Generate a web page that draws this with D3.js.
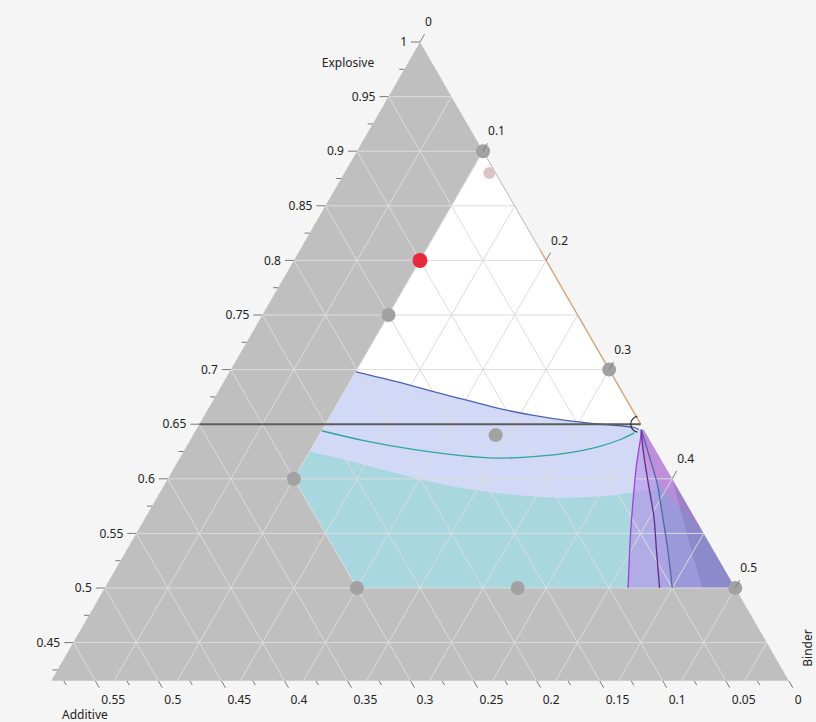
<!DOCTYPE html>
<html>
<head>
<meta charset="utf-8">
<script src="https://cdn.jsdelivr.net/npm/d3@7"></script>
<style>
  html, body { margin: 0; padding: 0; background: #f5f5f5; }
  svg { display: block; font-family: "Noto Sans", "Open Sans", sans-serif; }
</style>
</head>
<body>
<svg id="chart" width="816" height="722"></svg>
<script>
// ---- Mixture components -------------------------------------------------
const componentNames = ["Explosive", "Additive", "Binder"];
// Lowest explosive fraction shown in the plot window
const explosiveMin = 0.415;

// Feasible region from the mixture constraints, as [explosive, additive]
const feasibleRegion = [[0.9, 0], [0.6, 0.3], [0.5, 0.3], [0.5, 0]];

// Design runs, [explosive, additive] (binder = rest)
const designRuns = [[0.9, 0], [0.75, 0.15], [0.7, 0], [0.64, 0.12],
                    [0.6, 0.3], [0.5, 0.3], [0.5, 0.1725], [0.5, 0]];
const selectedRun = [0.8, 0.1];
const faintRun = [0.88, 0.005];

// Current factor setting
const currentExplosive = 0.65;
const currentAdditive = 0;

// Response contours, [explosive, additive]
const contourBlue = [[0.698, 0.202], [0.689, 0.174], [0.680, 0.150], [0.672, 0.127],
                     [0.664, 0.104], [0.658, 0.081], [0.653, 0.055], [0.650, 0.032],
                     [0.647, 0.007], [0.645, 0.004]];
const contourTeal = [[0.644, 0.256], [0.635, 0.227], [0.627, 0.192], [0.621, 0.155],
                     [0.619, 0.130], [0.620, 0.103], [0.623, 0.075], [0.629, 0.045],
                     [0.636, 0.023], [0.642, 0.009]];
const limitCyan = [[0.625, 0.275], [0.617, 0.250], [0.605, 0.216], [0.594, 0.182],
                   [0.587, 0.146], [0.583, 0.108], [0.583, 0.082], [0.585, 0.054],
                   [0.588, 0.036], [0.592, 0.0]];
const contourViolet = [[0.645, 0.002], [0.638, 0.006], [0.611, 0.023], [0.580, 0.041],
                       [0.550, 0.058], [0.5, 0.085]];
const contourPurple = [[0.645, 0.002], [0.626, 0.010], [0.596, 0.021], [0.565, 0.032],
                       [0.535, 0.045], [0.5, 0.060]];
const contourSteel = [[0.645, 0.002], [0.620, 0.008], [0.596, 0.014], [0.565, 0.025],
                      [0.535, 0.036], [0.5, 0.050]];
const limitPink = [[0.645, 0.002], [0.628, 0.010], [0.607, 0.013], [0.585, 0.010],
                   [0.565, 0.004], [0.55, 0.0]];
const limitEdge = [[0.60, 0.0], [0.57, 0.008], [0.54, 0.016], [0.5, 0.026]];

// Axis ticks
const explosiveTicks = d3.range(17, 41).map(k => k * 0.025);
const additiveTicks = d3.range(0, 24).map(k => k * 0.025);
const binderTicks = [0, 0.1, 0.2, 0.3, 0.4, 0.5];
const gridSteps = d3.range(1, 20).map(k => k * 0.05);

// ---- Ternary projection -------------------------------------------------
const svg = d3.select("#chart");
const unitHeight = 1092;                       // px per unit of explosive
const halfSide = unitHeight / Math.sqrt(3);
const apexX = 420, apexY = 42;
const yScale = d3.scaleLinear().domain([1, 0]).range([apexY, apexY + unitHeight]);
const xScale = d3.scaleLinear().domain([-1, 1]).range([apexX - halfSide, apexX + halfSide]);
const proj = ([e, a]) => { const b = 1 - e - a; return [xScale(b - a), yScale(e)]; };
const fmt = v => String(+v.toFixed(3));
const near = (v, step) => Math.abs(v / step - Math.round(v / step)) < 1e-6;

const smooth = d3.line().curve(d3.curveCatmullRom.alpha(0.5));
const straight = d3.line();
const polyPath = pts => straight(pts.map(proj)) + "Z";
// smooth curve followed by straight boundary segments, closed
const regionPath = (curve, rest) => {
  const c = smooth(curve.map(proj));
  return c + rest.map(p => { const q = proj(p); return "L" + q[0] + "," + q[1]; }).join("") + "Z";
};

// ---- Plot window ---------------------------------------------------------
const visible = [[1, 0], [explosiveMin, 1 - explosiveMin], [explosiveMin, 0]];
svg.append("path").attr("d", polyPath(visible)).attr("fill", "#bfbfbf");
svg.append("path").attr("d", polyPath(feasibleRegion)).attr("fill", "#ffffff");

// clip for contour shading
svg.append("clipPath").attr("id", "feasible")
  .append("path").attr("d", polyPath(feasibleRegion));
const shade = svg.append("g").attr("clip-path", "url(#feasible)");

const lowerLeft = [[0.5, 0], [0.5, 0.3], [0.6, 0.3]];
shade.append("path")
  .attr("d", regionPath(contourBlue, [[0.645, 0], ...lowerLeft]))
  .attr("fill", "#d1d9f6");
shade.append("path")
  .attr("d", regionPath(limitCyan, lowerLeft))
  .attr("fill", "#a9d7e0");

const edgeClose = [[0.5, 0], [0.645, 0]];
shade.append("path").attr("d", regionPath(contourViolet, edgeClose))
  .attr("fill", "rgb(184,143,234)").attr("fill-opacity", 0.6);
shade.append("path").attr("d", regionPath(contourPurple, edgeClose))
  .attr("fill", "rgb(130,100,200)").attr("fill-opacity", 0.12);
shade.append("path").attr("d", regionPath(contourSteel, edgeClose))
  .attr("fill", "rgb(80,95,175)").attr("fill-opacity", 0.15);
shade.append("path").attr("d", regionPath(limitPink, [[0.645, 0]]))
  .attr("fill", "rgb(230,120,210)").attr("fill-opacity", 0.35);
shade.append("path").attr("d", regionPath(limitEdge, [[0.5, 0]]))
  .attr("fill", "rgb(90,95,160)").attr("fill-opacity", 0.25);

// ---- Grid ----------------------------------------------------------------
const grid = svg.append("g").attr("stroke", "#dcdcdc").attr("stroke-width", 1).attr("fill", "none");
gridSteps.forEach(v => {
  if (v >= explosiveMin && v < 1) {
    grid.append("path").attr("d", straight([proj([v, 1 - v]), proj([v, 0])]));
  }
  if (v < 1 - explosiveMin) {
    // constant additive
    grid.append("path").attr("d", straight([proj([1 - v, v]), proj([explosiveMin, v])]));
    // constant binder
    grid.append("path").attr("d", straight([proj([1 - v, 0]), proj([explosiveMin, 1 - explosiveMin - v])]));
  }
});

// ---- Contour lines -------------------------------------------------------
const lines = svg.append("g").attr("fill", "none").attr("clip-path", "url(#feasible)");
[[contourBlue, "#4b62b4"], [contourTeal, "#2ea6a0"], [contourViolet, "#a23fd8"],
 [contourPurple, "#5e2d86"], [contourSteel, "#4a6aa6"]].forEach(([c, col]) => {
  lines.append("path").attr("d", smooth(c.map(proj))).attr("stroke", col).attr("stroke-width", 1.3);
});

// right edge of the feasible region
svg.append("path").attr("d", straight([proj([0.9, 0]), proj([0.81, 0])]))
  .attr("stroke", "#b9b9b9").attr("stroke-width", 1).attr("fill", "none");
svg.append("path").attr("d", straight([proj([0.81, 0]), proj([currentExplosive, 0])]))
  .attr("stroke", "#d6a47a").attr("stroke-width", 1.4).attr("fill", "none");

// ---- Current setting -----------------------------------------------------
svg.append("path")
  .attr("d", straight([proj([currentExplosive, 1 - currentExplosive]), proj([currentExplosive, 0])]))
  .attr("stroke", "#5c5c5c").attr("stroke-width", 2).attr("fill", "none");
const cur = proj([currentExplosive, currentAdditive]);
const arc = d3.path();
arc.arc(cur[0] - 2, cur[1], 8, -100 * Math.PI / 180, 100 * Math.PI / 180, true);
svg.append("path").attr("d", arc.toString())
  .attr("stroke", "#2a2a2a").attr("stroke-width", 1.2).attr("fill", "none");

// ---- Design runs ---------------------------------------------------------
svg.append("g").selectAll("circle").data(designRuns).join("circle")
  .attr("cx", d => proj(d)[0]).attr("cy", d => proj(d)[1])
  .attr("r", 7).attr("fill", "#a2a2a2");
svg.append("circle").datum(faintRun)
  .attr("cx", d => proj(d)[0]).attr("cy", d => proj(d)[1])
  .attr("r", 6).attr("fill", "#dcc3c7");
svg.append("circle").datum(selectedRun)
  .attr("cx", d => proj(d)[0]).attr("cy", d => proj(d)[1])
  .attr("r", 7.5).attr("fill", "#e8283c");

// ---- Axes ----------------------------------------------------------------
const axes = svg.append("g").attr("font-size", 12).attr("fill", "#222");
const tickStroke = "#7a7a7a";
const cos60 = 0.5, sin60 = Math.sqrt(3) / 2;

explosiveTicks.filter(v => v >= explosiveMin - 1e-9).forEach(v => {
  const [x, y] = proj([v, 1 - v]);
  const major = near(v, 0.05);
  axes.append("line").attr("x1", x - (major ? 9 : 5)).attr("x2", x).attr("y1", y).attr("y2", y)
    .attr("stroke", tickStroke);
  if (major) axes.append("text").attr("x", x - 13).attr("y", y).attr("dy", "0.35em")
    .attr("text-anchor", "end").text(fmt(v));
});

additiveTicks.filter(v => v <= 1 - explosiveMin).forEach(v => {
  const [x, y] = proj([explosiveMin, v]);
  const major = near(v, 0.05);
  const len = major ? 8 : 5;
  axes.append("line").attr("x1", x).attr("y1", y)
    .attr("x2", x + cos60 * len).attr("y2", y + sin60 * len).attr("stroke", tickStroke);
  if (major) axes.append("text").attr("x", x + 6).attr("y", 704).text(fmt(v));
});

binderTicks.filter(v => 1 - v >= explosiveMin).forEach(v => {
  const [x, y] = proj([1 - v, 0]);
  axes.append("line").attr("x1", x).attr("y1", y)
    .attr("x2", x + cos60 * 9).attr("y2", y - sin60 * 9).attr("stroke", tickStroke);
  axes.append("text").attr("x", x + 5).attr("y", y - 20).attr("dy", "0.35em").text(fmt(v));
});

// component titles
axes.append("text").attr("x", 348).attr("y", 67).attr("text-anchor", "middle").text(componentNames[0]);
axes.append("text").attr("x", 62).attr("y", 719).text(componentNames[1]);
axes.append("text").attr("transform", "translate(812,648) rotate(-90)")
  .attr("text-anchor", "middle").text(componentNames[2]);
</script>
</body>
</html>
